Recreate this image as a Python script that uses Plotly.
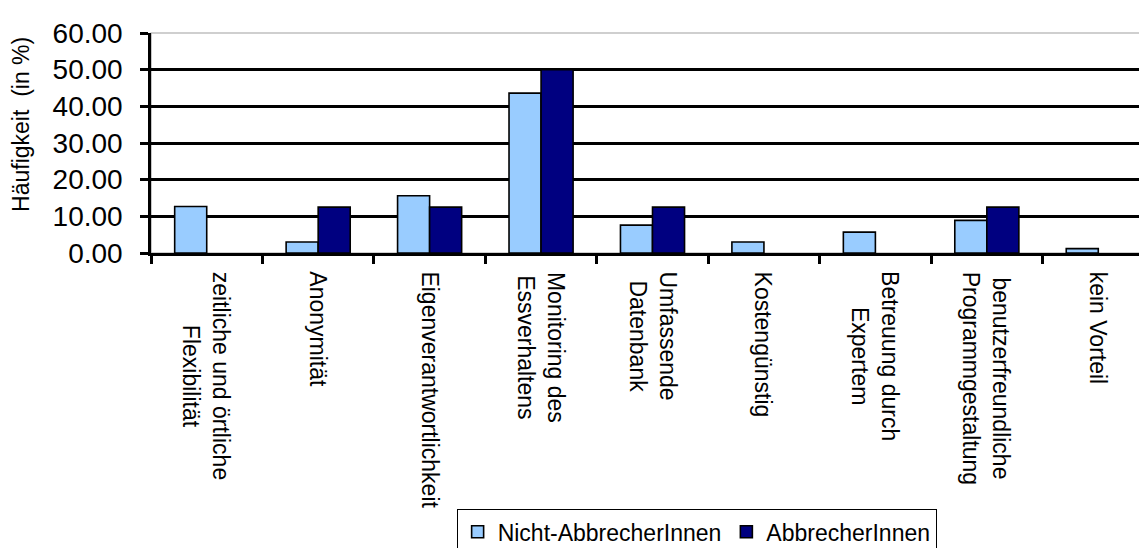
import plotly.graph_objects as go

categories = [
    "zeitliche und örtliche<br>Flexibilität",
    "Anonymität",
    "Eigenverantwortlichkeit",
    "Monitoring des<br>Essverhaltens",
    "Umfassende<br>Datenbank",
    "Kostengünstig",
    "Betreuung durch<br>Expertem",
    "benutzerfreundliche<br>Programmgestaltung",
    "kein Vorteil",
]
nicht_abbrecher = [12.7, 3.0, 15.6, 43.6, 7.6, 3.0, 5.7, 8.9, 1.2]
abbrecher = [None, 12.5, 12.5, 50.0, 12.5, None, None, 12.5, None]
y_ticks = [0, 10, 20, 30, 40, 50, 60]
grid_vals = [10, 20, 30, 40, 50]

FONT = "Liberation Sans, Arial, sans-serif"

fig = go.Figure()
fig.add_trace(go.Bar(
    x=categories, y=nicht_abbrecher, name="Nicht-AbbrecherInnen",
    marker=dict(color="#99CCFF", line=dict(color="black", width=1.6)),
))
fig.add_trace(go.Bar(
    x=categories, y=abbrecher, name="AbbrecherInnen",
    marker=dict(color="#000080", line=dict(color="black", width=1.6)),
))

# category labels, rotated, lines centred like the original
for c in categories:
    fig.add_annotation(
        x=c, xref="x", y=-0.075, yref="paper",
        text=c, textangle=90, showarrow=False,
        xanchor="center", yanchor="top", align="center",
        font=dict(family=FONT, size=23, color="black"),
    )

# y axis title, sitting a little above the plot centre as in the original
fig.add_annotation(
    x=-0.129, xref="paper", y=0.585, yref="paper",
    text="Häufigkeit\u00a0 (in %)", textangle=-90, showarrow=False,
    xanchor="center", yanchor="middle",
    font=dict(family=FONT, size=23, color="black"),
)

fig.update_layout(
    width=1147, height=548,
    margin=dict(l=143, r=1, t=25, b=299),
    paper_bgcolor="white", plot_bgcolor="white",
    barmode="group", bargap=0.425, bargroupgap=0,
    font=dict(family=FONT, color="black"),
    showlegend=True,
    legend=dict(
        orientation="h", x=0.544, xanchor="center", y=-1.165, yanchor="top",
        bordercolor="black", borderwidth=1,
        font=dict(family=FONT, size=23, color="black"),
        itemwidth=30, tracegroupgap=0,
    ),
    xaxis=dict(
        type="category", showline=True, linecolor="black", linewidth=2.5,
        ticks="outside", tickson="boundaries", ticklen=8, tickwidth=2.5,
        tickcolor="black", showticklabels=False, showgrid=False,
    ),
    yaxis=dict(
        range=[0, 60], tickvals=y_ticks, tickformat=".2f",
        showline=True, linecolor="black", linewidth=2.5,
        ticks="outside", ticklen=8, tickwidth=2.5, tickcolor="black",
        ticklabelstandoff=12,
        tickfont=dict(family=FONT, size=28, color="black"),
        showgrid=False, zeroline=False,
    ),
    yaxis2=dict(
        overlaying="y", range=[0, 60], tickvals=grid_vals,
        showgrid=True, gridcolor="black", gridwidth=2.8,
        showticklabels=False, ticks="", zeroline=False, showline=False,
    ),
)

# thin grey frame of the plot area (top and right sides remain visible)
fig.add_shape(type="rect", xref="paper", yref="paper", x0=0, y0=0, x1=1, y1=1,
              line=dict(color="#A0A0A0", width=1.2), layer="below")

# invisible helper trace so the overlay axis carrying the grid is drawn
fig.add_trace(go.Scatter(x=[categories[0]], y=[0], yaxis="y2", mode="markers",
                         marker=dict(opacity=0), showlegend=False, hoverinfo="skip"))

fig.write_html("out.html")
